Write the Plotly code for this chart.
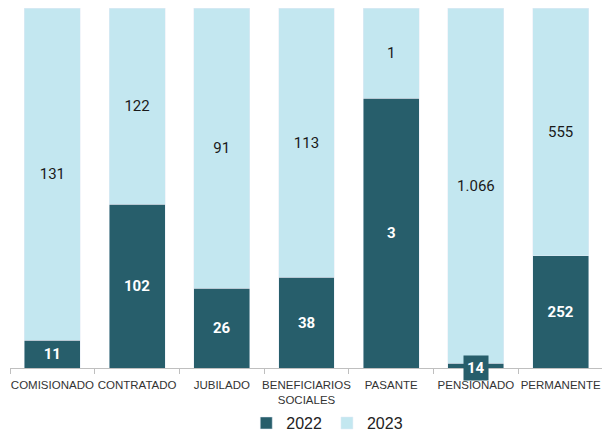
import plotly.graph_objects as go

categories = ["COMISIONADO", "CONTRATADO", "JUBILADO", "BENEFICIARIOS<br>SOCIALES",
              "PASANTE", "PENSIONADO", "PERMANENTE"]
v2022 = [11, 102, 26, 38, 3, 14, 252]
v2023 = [131, 122, 91, 113, 1, 1066, 555]

dark = "#275E6B"
light = "#C3E7F0"

def fmt(n):
    return f"{n:,}".replace(",", ".")

pct22 = [a / (a + b) * 100 for a, b in zip(v2022, v2023)]
small = [p < 4 for p in pct22]

fig = go.Figure()
fig.add_bar(name="2022", x=categories, y=v2022, marker_color=dark,
            text=["" if s else fmt(v) for v, s in zip(v2022, small)],
            textposition="inside", insidetextanchor="middle", textangle=0,
            textfont=dict(color="white", size=15, family="Roboto", weight="bold"),
            constraintext="none")
fig.add_bar(name="2023", x=categories, y=v2023, marker_color=light,
            text=[fmt(v) for v in v2023],
            textposition="inside", insidetextanchor="middle", textangle=0,
            textfont=dict(color="#1a1a1a", size=15, family="Roboto"),
            constraintext="none")

for c, v, p, s in zip(categories, v2022, pct22, small):
    if s:
        fig.add_annotation(x=c, y=0, text=f"<b>{fmt(v)}</b>", showarrow=False,
                           font=dict(color="white", size=15, family="Roboto"),
                           bgcolor=dark, borderpad=3, yanchor="middle")

fig.update_layout(
    barmode="stack", barnorm="percent", bargap=0.34,
    separators=",.",
    width=602, height=427,
    margin=dict(l=2, r=7, t=0, b=67, autoexpand=False),
    plot_bgcolor="white", paper_bgcolor="white",
    showlegend=True,
    legend=dict(orientation="h", x=0.535, xanchor="center", y=-0.153, yanchor="middle",
                font=dict(size=16, family="Liberation Sans", color="#222"),
                traceorder="normal", itemwidth=30),
)
fig.update_xaxes(showline=True, linecolor="#BFBFBF", linewidth=1, automargin=False,
                 ticks="outside", tickson="boundaries", ticklen=5, tickcolor="#BFBFBF",
                 ticklabelstandoff=6,
                 tickfont=dict(size=11.5, family="Liberation Sans", color="#333"),
                 tickangle=0)
fig.update_yaxes(visible=False, range=[0, 100], automargin=False)

fig.write_html("out.html")
